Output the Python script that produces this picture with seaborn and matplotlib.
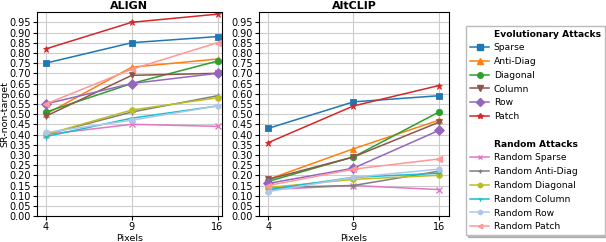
import pandas as pd
import seaborn as sns
import matplotlib.pyplot as plt
from matplotlib.lines import Line2D

# pixel sizes
pixels = ['4', '9', '16']

evo_names = ['Sparse', 'Anti-Diag', 'Diagonal', 'Column', 'Row', 'Patch']
rnd_names = ['Random Sparse', 'Random Anti-Diag', 'Random Diagonal',
             'Random Column', 'Random Row', 'Random Patch']

align_vals = {
    'Sparse': [0.75, 0.85, 0.88],
    'Anti-Diag': [0.50, 0.73, 0.77],
    'Diagonal': [0.51, 0.65, 0.76],
    'Column': [0.49, 0.69, 0.70],
    'Row': [0.55, 0.65, 0.70],
    'Patch': [0.82, 0.95, 0.99],
    'Random Sparse': [0.40, 0.45, 0.44],
    'Random Anti-Diag': [0.40, 0.51, 0.59],
    'Random Diagonal': [0.40, 0.52, 0.58],
    'Random Column': [0.39, 0.48, 0.54],
    'Random Row': [0.41, 0.47, 0.54],
    'Random Patch': [0.55, 0.72, 0.85],
}

altclip_vals = {
    'Sparse': [0.43, 0.56, 0.59],
    'Anti-Diag': [0.18, 0.33, 0.47],
    'Diagonal': [0.17, 0.29, 0.51],
    'Column': [0.18, 0.29, 0.46],
    'Row': [0.16, 0.235, 0.42],
    'Patch': [0.36, 0.54, 0.64],
    'Random Sparse': [0.13, 0.15, 0.13],
    'Random Anti-Diag': [0.14, 0.15, 0.22],
    'Random Diagonal': [0.14, 0.18, 0.20],
    'Random Column': [0.13, 0.19, 0.21],
    'Random Row': [0.12, 0.19, 0.23],
    'Random Patch': [0.15, 0.23, 0.28],
}

colors = {
    'Sparse': '#1f77b4', 'Anti-Diag': '#ff7f0e', 'Diagonal': '#2ca02c',
    'Column': '#8c564b', 'Row': '#9467bd', 'Patch': '#d62728',
    'Random Sparse': '#e377c2', 'Random Anti-Diag': '#7f7f7f',
    'Random Diagonal': '#bcbd22', 'Random Column': '#17becf',
    'Random Row': '#aec7e8', 'Random Patch': '#ff9896',
}
markers = {
    'Sparse': 's', 'Anti-Diag': '^', 'Diagonal': 'o', 'Column': 'v',
    'Row': 'D', 'Patch': '*',
    'Random Sparse': 'x', 'Random Anti-Diag': '+', 'Random Diagonal': 'o',
    'Random Column': '1', 'Random Row': 'h', 'Random Patch': '<',
}

plt.rcParams['font.family'] = ['DejaVu Sans']
fig = plt.figure(figsize=(6.06, 2.42), dpi=100)
ax1 = fig.add_axes([0.061, 0.107, 0.305, 0.843])
ax2 = fig.add_axes([0.427, 0.107, 0.314, 0.843])


def draw(ax, vals, title, xlim):
    for name in evo_names + rnd_names:
        df = pd.DataFrame({'x': range(len(pixels)), 'y': vals[name]})
        small = name.startswith('Random')
        sns.lineplot(data=df, x='x', y='y', ax=ax, color=colors[name],
                     marker=markers[name], markersize=3.8 if small else 4.6,
                     markeredgewidth=1 if small else 0.6, linewidth=1.1,
                     markeredgecolor=colors[name] if small else None)
    ax.set_title(title, fontsize=8, fontweight='bold', pad=2)
    ax.set_xticks(range(len(pixels)))
    ax.set_xticklabels(pixels)
    ax.set_xlim(*xlim)
    ax.set_ylim(0, 1.0)
    ax.set_yticks([i * 0.05 for i in range(20)])
    ax.set_yticklabels([f'{i * 0.05:.2f}' for i in range(20)])
    ax.grid(True, color='#cccccc', linewidth=0.8)
    ax.set_axisbelow(True)
    ax.tick_params(labelsize=7, length=3, pad=1.5)
    ax.set_xlabel('Pixels', fontsize=6.8, labelpad=1)
    ax.set_ylabel('')


draw(ax1, align_vals, 'ALIGN', (-0.105, 2.05))
draw(ax2, altclip_vals, 'AltCLIP', (-0.11, 2.12))
ax1.set_ylabel('SR-non-target', fontsize=6.8, labelpad=0)

handles, labels = [], []
blank = Line2D([], [], alpha=0)
handles.append(blank); labels.append('Evolutionary Attacks')
for name in evo_names:
    handles.append(Line2D([], [], color=colors[name], marker=markers[name],
                          markersize=4, linewidth=1.1))
    labels.append(name)
handles.append(blank); labels.append('')
handles.append(blank); labels.append('Random Attacks')
for name in rnd_names:
    handles.append(Line2D([], [], color=colors[name], marker=markers[name],
                          markersize=3.2, linewidth=1.1))
    labels.append(name)

leg = fig.legend(handles, labels, loc='upper left',
                 bbox_to_anchor=(0.762, 0.912), fontsize=6.6, frameon=True,
                 shadow={'ox': 1.5, 'oy': -1.5, 'alpha': 0.35},
                 handlelength=2.1, labelspacing=0.52,
                 borderpad=0.4, handletextpad=0.5, fancybox=False,
                 edgecolor='#bbbbbb')
for t in leg.get_texts():
    if t.get_text() in ('Evolutionary Attacks', 'Random Attacks'):
        t.set_fontweight('bold')

fig.savefig('out.png', dpi=100)
